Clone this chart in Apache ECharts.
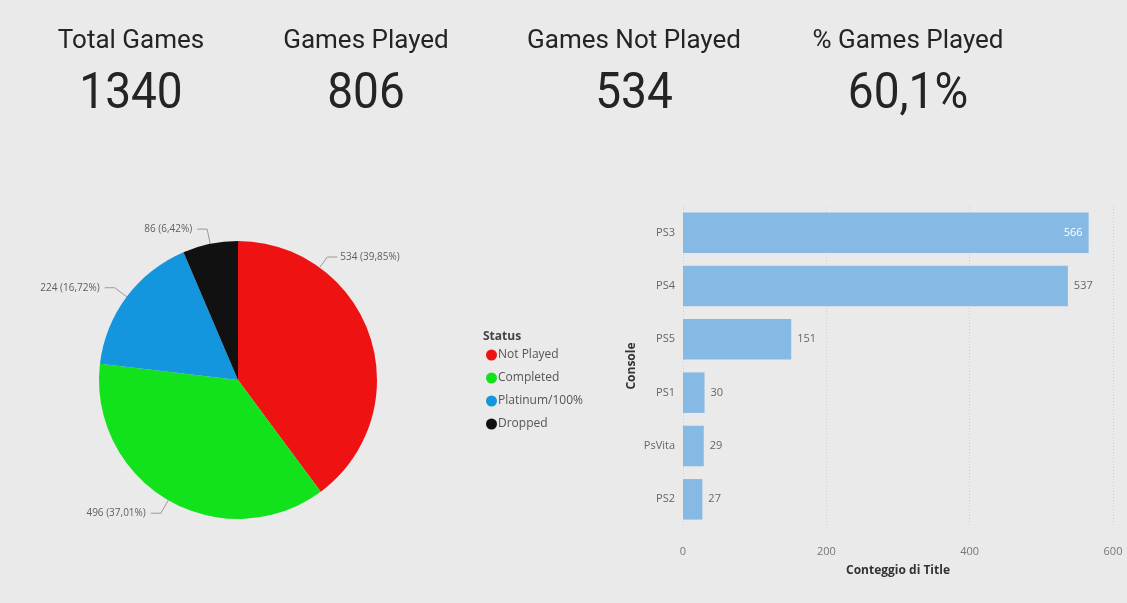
<!DOCTYPE html>
<html>
<head>
<meta charset="utf-8">
<script src="https://cdn.jsdelivr.net/npm/echarts@6/dist/echarts.min.js"></script>
<style>
html,body{margin:0;padding:0;background:#EAEAEA;}
#main{width:1127px;height:603px;}
</style>
</head>
<body>
<div id="main"></div>
<script>
// KPI cards
const kpiTitles = ['Total Games', 'Games Played', 'Games Not Played', '% Games Played'];
const kpiValues = ['1340', '806', '534', '60,1%'];

// Pie: status
const statusNames = ['Not Played', 'Completed', 'Platinum/100%', 'Dropped'];
const statusValues = [534, 496, 224, 86];
const statusColors = ['#EE1212', '#12E21B', '#1496DE', '#111111'];

// Bar: console
const consoles = ['PS3', 'PS4', 'PS5', 'PS1', 'PsVita', 'PS2'];
const consoleCounts = [566, 537, 151, 30, 29, 27];
const xTicks = [0, 200, 400, 600];

const kpiX = [131, 366, 634, 908];
const graphics = [];
kpiTitles.forEach((t, i) => {
  graphics.push({type:'text', x: kpiX[i], y: 41,
    style:{text:t, textAlign:'center', textVerticalAlign:'middle', font:'400 26px Roboto', fill:'#252423'}});
  graphics.push({type:'text', x: kpiX[i], y: 95, scaleX: 0.92,
    style:{text:kpiValues[i], textAlign:'center', textVerticalAlign:'middle', font:'400 50px Roboto', fill:'#252423'}});
});
graphics.push({type:'text', x: 483, y: 337,
  style:{text:'Status', textVerticalAlign:'middle', font:'bold 12px "Open Sans", sans-serif', fill:'#444'}});

const maxCount = Math.max(...consoleCounts);
const barData = consoleCounts.map(v => v === maxCount
  ? {value: v, label: {position: 'insideRight', color: '#ffffff'}}
  : {value: v});

const pieCenter = [238, 380], pieRadius = 139;
// Power BI places the largest slice's label near the upper right of the pie
function firstLabelLayout(p) {
  if (p.dataIndex !== 0) return {};
  const a = 36 * Math.PI / 180;
  const p0 = [pieCenter[0] + pieRadius * Math.sin(a), pieCenter[1] - pieRadius * Math.cos(a)];
  const p1 = [p0[0] + 13 * Math.sin(a), p0[1] - 13 * Math.cos(a)];
  const p2 = [p1[0] + 10, p1[1]];
  return {x: p2[0] + 3, y: p2[1], align: 'left', verticalAlign: 'middle', labelLinePoints: [p0, p1, p2]};
}

const chart = echarts.init(document.getElementById('main'));
chart.setOption({
  backgroundColor: '#EAEAEA',
  animation: false,
  graphic: graphics,
  legend: {
    orient: 'vertical',
    left: 481, top: 344,
    icon: 'circle',
    itemWidth: 11, itemHeight: 11, itemGap: 11,
    data: statusNames,
    textStyle: {fontFamily: '"Open Sans", sans-serif', fontSize: 12, color: '#555', padding:[0,0,0,-4]}
  },
  grid: {left: 683, right: 14, top: 206, height: 320},
  xAxis: {
    type: 'value', min: xTicks[0], max: xTicks[xTicks.length-1], interval: 200,
    name: 'Conteggio di Title', nameLocation: 'middle', nameGap: 39,
    nameTextStyle: {fontFamily: '"Open Sans", sans-serif', fontSize: 12, fontWeight: 'bold', color: '#333'},
    axisLine: {show: false}, axisTick: {show: false},
    axisLabel: {margin: 20, color: '#777', fontSize: 11, fontFamily: '"Open Sans", sans-serif'},
    splitLine: {lineStyle: {color: '#CFCFCF', type: [1, 2]}}
  },
  yAxis: {
    type: 'category', data: consoles, inverse: true,
    name: 'Console', nameLocation: 'middle', nameGap: 45, nameRotate: 90,
    nameTextStyle: {fontFamily: '"Open Sans", sans-serif', fontSize: 12, fontWeight: 'bold', color: '#333'},
    axisLine: {show: false}, axisTick: {show: false},
    axisLabel: {margin: 8, color: '#666', fontSize: 11, fontFamily: '"Open Sans", sans-serif'}
  },
  series: [
    {
      type: 'pie',
      center: pieCenter, radius: pieRadius,
      startAngle: 90, clockwise: true,
      data: statusNames.map((n, i) => ({name: n, value: statusValues[i], itemStyle: {color: statusColors[i]}})),
      label: {
        show: true,
        formatter: p => p.value + ' (' + p.percent.toFixed(2).replace('.', ',') + '%)',
        color: '#605E5C', fontSize: 10, fontFamily: '"Open Sans", sans-serif'
      },
      labelLine: {length: 15, length2: 10, lineStyle: {color: '#999', width: 1}},
      labelLayout: firstLabelLayout,
      emphasis: {disabled: true}
    },
    {
      type: 'bar',
      data: barData,
      barCategoryGap: '24%',
      itemStyle: {color: '#86B9E4'},
      label: {show: true, position: 'right', distance: 6, color: '#666', fontSize: 11, fontFamily: '"Open Sans", sans-serif'},
      emphasis: {disabled: true}
    }
  ]
});
</script>
</body>
</html>
